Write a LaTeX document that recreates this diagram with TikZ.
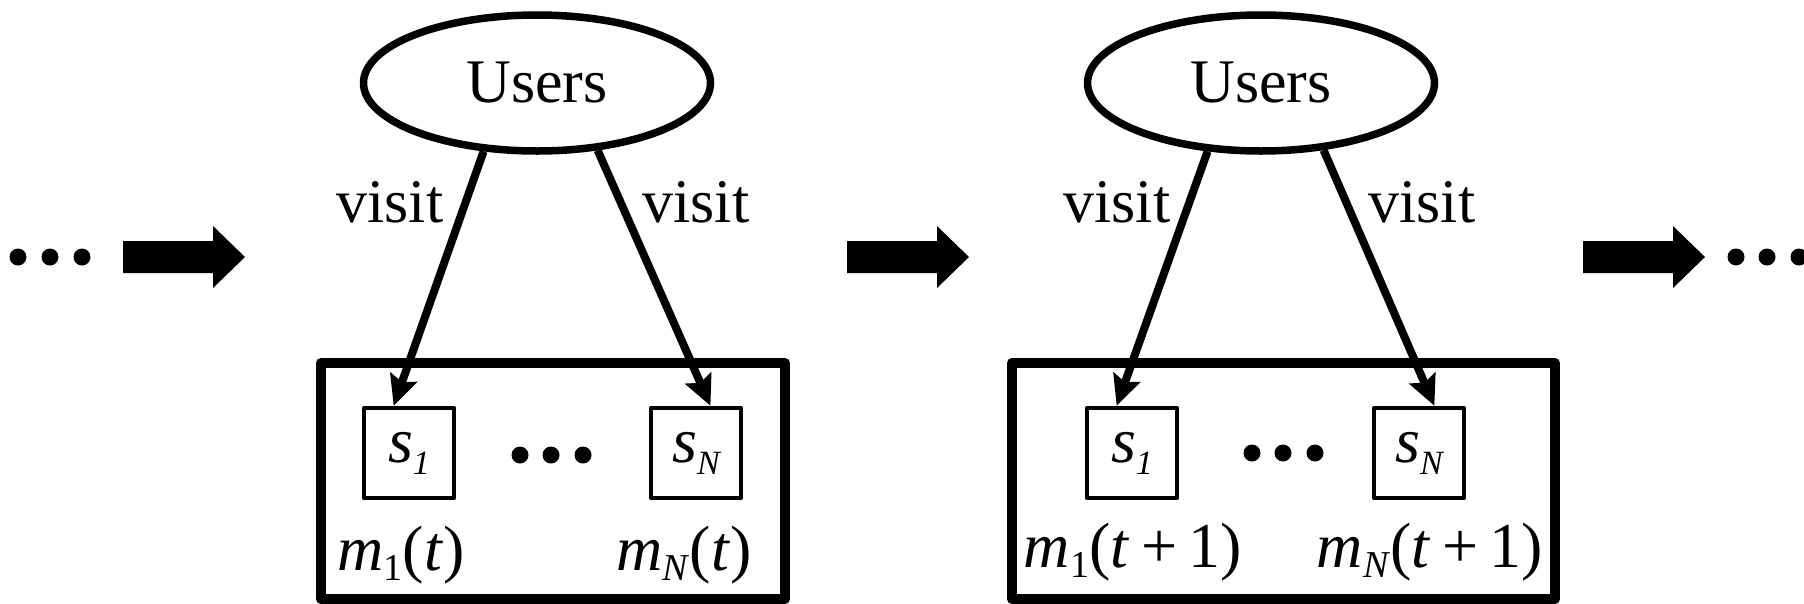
\documentclass[tikz,border=0pt]{standalone}
\usepackage{fontspec}
\setmainfont{Liberation Serif}
\usetikzlibrary{arrows.meta,shapes.geometric}
\newcommand{\lblfont}{\fontsize{62}{70}\selectfont}
\newcommand{\mthfont}{\fontsize{64}{70}\selectfont}
\newcommand{\sitefont}{\fontsize{64}{66}\selectfont}
\newcommand{\msub}[1]{\raisebox{-10pt}{\fontsize{38}{40}\selectfont #1}}
\newcommand{\ssub}[1]{\raisebox{-12pt}{\fontsize{34}{36}\selectfont\itshape #1}}
\begin{document}
\begin{tikzpicture}[x=1pt,y=-1pt,line join=round,
  users/.style={ellipse,draw,line width=7.5pt,minimum width=347pt,minimum height=136pt,inner sep=0pt,font=\lblfont},
  site/.style={draw,line width=4.5pt,minimum width=90pt,minimum height=90pt,inner sep=0pt,font=\sitefont},
  visit/.style={line width=8pt,-{Stealth[length=30pt,width=28pt,inset=5pt]}},
  lbl/.style={anchor=base,inner sep=0pt,font=\lblfont},
  mlbl/.style={anchor=base,inner sep=0pt,font=\mthfont}]
\useasboundingbox (0,0) rectangle (1804,603);
% dots and block arrows between the stages
\foreach \x in {18,50,82,1736,1767,1799} \fill (\x,257) circle (8.5pt);
\foreach \x in {123,847,1583}
  \fill (\x,241) -- ++(90,0) -- ++(0,-15) -- ++(32,31) -- ++(-32,31) -- ++(0,-15) -- ++(-90,0) -- cycle;
% stage t
\draw[line width=10pt] (321,363) rectangle (785,599);
\node[users] (u1) at (537,83) {Users};
\node[site] (s11) at (409,453) {\textit{s}\ssub{1}};
\node[site] (sN1) at (696,453) {\textit{s}\ssub{N}};
\draw[visit] (u1.232) -- (s11.108);
\draw[visit] (u1.312) -- (sN1.73);
\node[lbl] (v11) at (390,222) {visit};
\node[lbl] (vN1) at (696,222) {visit};
\foreach \x in {520,551,583} \fill (\x,455) circle (8.5pt);
\node[mlbl] (m11) at (401,570) {\textit{m}\msub{1}(\textit{t})};
\node[mlbl] (mN1) at (684,570) {\textit{m}\msub{\textit{N}}(\textit{t})};
% stage t+1
\draw[line width=10pt] (1012,363) rectangle (1555,599);
\node[users] (u2) at (1261,83) {Users};
\node[site] (s12) at (1132,453) {\textit{s}\ssub{1}};
\node[site] (sN2) at (1419,453) {\textit{s}\ssub{N}};
\draw[visit] (u2.232) -- (s12.108);
\draw[visit] (u2.313) -- (sN2.72);
\node[lbl] (v12) at (1117,222) {visit};
\node[lbl] (vN2) at (1422,222) {visit};
\foreach \x in {1252,1283,1315} \fill (\x,453) circle (8.5pt);
\node[mlbl] (m12) at (1133,567) {\textit{m}\msub{1}(\textit{t}\hspace{0.18em}+\hspace{0.18em}1)};
\node[mlbl] (mN2) at (1430,567) {\textit{m}\msub{\textit{N}}(\textit{t}\hspace{0.18em}+\hspace{0.18em}1)};
\end{tikzpicture}
\end{document}
